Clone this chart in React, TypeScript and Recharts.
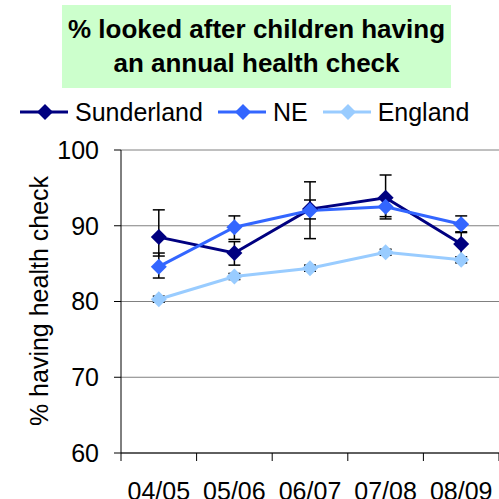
import React from "react";
import {
  LineChart,
  Line,
  XAxis,
  YAxis,
  CartesianGrid,
  ErrorBar,
  Legend,
} from "recharts";

const categories = ["04/05", "05/06", "06/07", "07/08", "08/09"];

const sunderland = [88.5, 86.4, 92.2, 93.7, 87.6];
const sunderlandLow = [86.0, 84.8, 88.3, 90.9, 85.6];
const sunderlandHigh = [92.1, 87.9, 95.8, 96.7, 89.2];

const ne = [84.6, 89.8, 92.0, 92.5, 90.2];
const neLow = [83.1, 88.2, 90.9, 91.2, 89.1];
const neHigh = [86.4, 91.3, 93.4, 93.7, 91.3];

const england = [80.3, 83.3, 84.4, 86.5, 85.5];
const englandLow = [79.9, 82.9, 84.0, 86.1, 85.1];
const englandHigh = [80.7, 83.7, 84.8, 86.9, 85.9];

const yTicks = [60, 70, 80, 90, 100];
const boundaryTicks = [0, 1, 2, 3, 4, 5];

const series = [
  { key: "sunderland", name: "Sunderland", color: "#000080" },
  { key: "ne", name: "NE", color: "#3366ff" },
  { key: "england", name: "England", color: "#99ccff" },
];

const data = categories.map((c, i) => ({
  x: i + 0.5,
  label: c,
  sunderland: sunderland[i],
  sunderlandErr: [sunderland[i] - sunderlandLow[i], sunderlandHigh[i] - sunderland[i]],
  ne: ne[i],
  neErr: [ne[i] - neLow[i], neHigh[i] - ne[i]],
  england: england[i],
  englandErr: [england[i] - englandLow[i], englandHigh[i] - england[i]],
}));

const FONT = '"Liberation Sans", Arial, sans-serif';

function makeDiamond(color: string) {
  return (props: any) => {
    const { cx, cy, index } = props;
    if (cx == null || cy == null) return <g key={index} />;
    const r = 8;
    return (
      <polygon
        key={index}
        points={`${cx},${cy - r} ${cx + r},${cy} ${cx},${cy + r} ${cx - r},${cy}`}
        fill={color}
        stroke="none"
      />
    );
  };
}

function LegendContent() {
  return (
    <div style={{ display: "flex", alignItems: "center", fontFamily: FONT, fontSize: 25, color: "#000", paddingLeft: 20 }}>
      {series.map((s) => (
        <div key={s.key} style={{ display: "flex", alignItems: "center", marginRight: 15 }}>
          <svg width={48} height={20} style={{ marginRight: 7 }}>
            <line x1={0} y1={10} x2={48} y2={10} stroke={s.color} strokeWidth={3} />
            <polygon points="25,2 33,10 25,18 17,10" fill={s.color} />
          </svg>
          <span style={{ lineHeight: "28px" }}>{s.name}</span>
        </div>
      ))}
    </div>
  );
}

function YLabel() {
  return (
    <text
      x={48}
      y={301}
      transform="rotate(-90, 48, 301)"
      textAnchor="middle"
      fontSize={25}
      fontFamily={FONT}
      fill="#000"
    >
      % having health check
    </text>
  );
}

// boundary tick: nothing but the tick line
const EmptyTick = () => <g />;

export default function App() {
  return (
    <div
      style={{
        position: "fixed",
        left: 0,
        top: 0,
        width: 499,
        height: 499,
        overflow: "hidden",
        background: "#fff",
        fontFamily: FONT,
      }}
    >
      <div
        style={{
          position: "absolute",
          left: 62,
          top: 5,
          width: 389,
          height: 83,
          background: "#ccffcc",
          textAlign: "center",
          fontWeight: "bold",
          fontSize: 26,
          lineHeight: "34px",
          paddingTop: 7,
          boxSizing: "border-box",
          color: "#000",
        }}
      >
        % looked after children having
        <br />
        an annual health check
      </div>
      <LineChart
        width={499}
        height={512}
        data={data}
        margin={{ top: 150, right: 0, left: 0, bottom: 0 }}
        style={{ fontFamily: FONT }}
      >
        <CartesianGrid vertical={false} stroke="#808080" strokeWidth={1} />
        <XAxis
          xAxisId="a"
          type="number"
          dataKey="x"
          domain={[0, 5]}
          ticks={boundaryTicks}
          tick={<EmptyTick />}
          tickSize={8}
          tickLine={{ stroke: "#000" }}
          axisLine={{ stroke: "#000" }}
          height={1}
          interval={0}
          allowDataOverflow
        />
        <XAxis
          xAxisId="b"
          type="number"
          dataKey="x"
          domain={[0, 5]}
          ticks={data.map((d) => d.x)}
          tickFormatter={(v: number) => categories[Math.floor(v)]}
          tickLine={false}
          tickSize={8}
          tickMargin={20}
          axisLine={false}
          tick={{ fill: "#000", fontSize: 25 }}
          height={58}
          interval={0}
        />
        <YAxis
          domain={[60, 100]}
          ticks={yTicks}
          width={121}
          tickSize={7}
          tickMargin={15}
          axisLine={{ stroke: "#000" }}
          tickLine={{ stroke: "#000" }}
          tick={{ fill: "#000", fontSize: 25 }}
          label={<YLabel />}
          interval={0}
        />
        <Legend
          layout="horizontal"
          verticalAlign="middle"
          align="center"
          wrapperStyle={{ top: 98, left: 0, width: 499 }}
          content={<LegendContent />}
        />
        {series.map((s) => (
          <Line
            key={s.key}
            xAxisId="b"
            type="linear"
            dataKey={s.key}
            name={s.name}
            stroke={s.color}
            strokeWidth={3}
            dot={makeDiamond(s.color)}
            activeDot={false}
            isAnimationActive={false}
          >
            <ErrorBar
              dataKey={`${s.key}Err`}
              width={6}
              stroke="#000"
              strokeWidth={1.5}
              direction="y"
              isAnimationActive={false}
            />
          </Line>
        ))}
      </LineChart>
    </div>
  );
}
